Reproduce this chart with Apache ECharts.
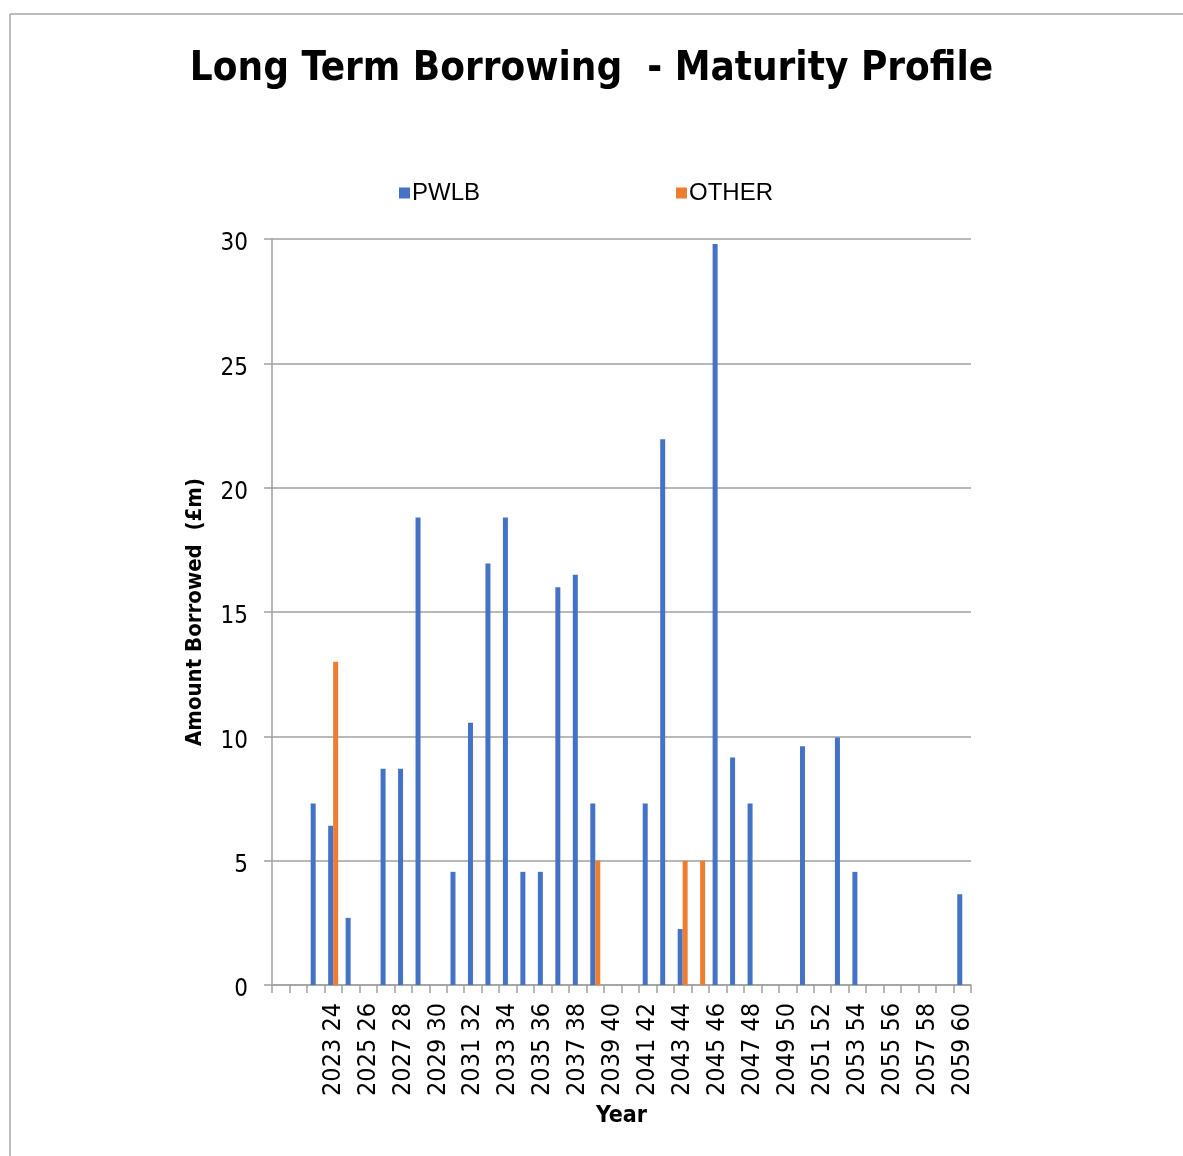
<!DOCTYPE html>
<html>
<head>
<meta charset="utf-8">
<script src="https://cdn.jsdelivr.net/npm/echarts@6/dist/echarts.min.js"></script>
<style>
  html, body { margin: 0; padding: 0; background: #fff; }
  #chart { width: 1183px; height: 1156px; }
</style>
</head>
<body>
<div id="chart"></div>
<script>
// categories, fiscal years (first two slots have no label)
var years = ['', '', '2022 23', '2023 24', '2024 25', '2025 26', '2026 27', '2027 28', '2028 29', '2029 30',
  '2030 31', '2031 32', '2032 33', '2033 34', '2034 35', '2035 36', '2036 37', '2037 38', '2038 39', '2039 40',
  '2040 41', '2041 42', '2042 43', '2043 44', '2044 45', '2045 46', '2046 47', '2047 48', '2048 49', '2049 50',
  '2050 51', '2051 52', '2052 53', '2053 54', '2054 55', '2055 56', '2056 57', '2057 58', '2058 59', '2059 60']

var pwlb = [null, null, 7.3, 6.4, 2.7, null, 8.7, 8.7, 18.8, null,
  4.55, 10.55, 16.95, 18.8, 4.55, 4.55, 16.0, 16.5, 7.3, null,
  null, 7.3, 21.95, 2.25, null, 29.8, 9.15, 7.3, null, null,
  9.6, null, 9.95, 4.55, null, null, null, null, null, 3.65]

var other = [null, null, null, 13.0, null, null, null, null, null, null,
  null, null, null, null, null, null, null, null, 5.0, null,
  null, null, null, 5.0, 5.0, null, null, null, null, null,
  null, null, null, null, null, null, null, null, null, null]

var calibri = '"Liberation Sans Narrow", "DejaVu Sans Condensed", sans-serif'

var chart = echarts.init(document.getElementById('chart'))

chart.setOption({
  backgroundColor: '#FFFFFF',
  animation: false,
  title: {
    text: 'Long Term Borrowing  - Maturity Profile',
    left: 'center',
    top: 45,
    textStyle: {
      fontFamily: calibri,
      fontWeight: 'bold',
      fontSize: 40,
      color: '#000'
    }
  },
  graphic: [
    { type: 'line', shape: { x1: 10, y1: 14, x2: 1183, y2: 14 }, style: { stroke: '#a6a6a6', lineWidth: 1.5 } },
    { type: 'line', shape: { x1: 10, y1: 14, x2: 10, y2: 1156 }, style: { stroke: '#a6a6a6', lineWidth: 1.5 } }
  ],
  legend: {
    data: ['PWLB', 'OTHER'],
    left: 394,
    top: 176,
    icon: 'rect',
    itemWidth: 11,
    itemHeight: 11,
    itemGap: 196,
    textStyle: {
      fontFamily: '"Liberation Sans", Arial, sans-serif',
      fontSize: 24,
      color: '#000',
      padding: [0, 0, 0, -3]
    }
  },
  grid: {
    left: 272,
    right: 212,
    top: 239,
    bottom: 171,
    containLabel: false
  },
  xAxis: {
    type: 'category',
    data: years,
    name: 'Year',
    nameLocation: 'middle',
    nameGap: 120,
    nameTextStyle: {
      fontFamily: calibri,
      fontWeight: 'bold',
      fontSize: 23,
      color: '#000'
    },
    axisLine: { lineStyle: { color: '#a0a0a0', width: 1.5 } },
    axisTick: { show: true, interval: 0, length: 8, lineStyle: { color: '#a0a0a0', width: 1.5 } },
    axisLabel: {
      rotate: 90,
      margin: 18,
      interval: function (index) { return index >= 3 && index % 2 === 1 },
      fontFamily: calibri,
      fontSize: 25,
      color: '#000'
    }
  },
  yAxis: {
    type: 'value',
    min: 0,
    max: 30,
    interval: 5,
    name: 'Amount Borrowed  (£m)',
    nameLocation: 'middle',
    nameGap: 66,
    nameTextStyle: {
      fontFamily: calibri,
      fontWeight: 'bold',
      fontSize: 22,
      color: '#000'
    },
    axisLine: { show: true, lineStyle: { color: '#a0a0a0', width: 1.5 } },
    axisTick: { show: true, length: 8, lineStyle: { color: '#a0a0a0', width: 1.5 } },
    axisLabel: {
      margin: 24,
      formatter: '{v|{value}}',
      rich: {
        v: {
          padding: [10, 0, 0, 0],
          fontFamily: calibri,
          fontSize: 24,
          color: '#000'
        }
      }
    },
    splitLine: { lineStyle: { color: '#a0a0a0', width: 1.5 } }
  },
  series: [
    {
      name: 'PWLB',
      type: 'bar',
      data: pwlb,
      barWidth: 5,
      barGap: '0%',
      itemStyle: { color: '#4472C4' }
    },
    {
      name: 'OTHER',
      type: 'bar',
      data: other,
      barWidth: 5,
      itemStyle: { color: '#ED7D31' }
    }
  ]
})
</script>
</body>
</html>
